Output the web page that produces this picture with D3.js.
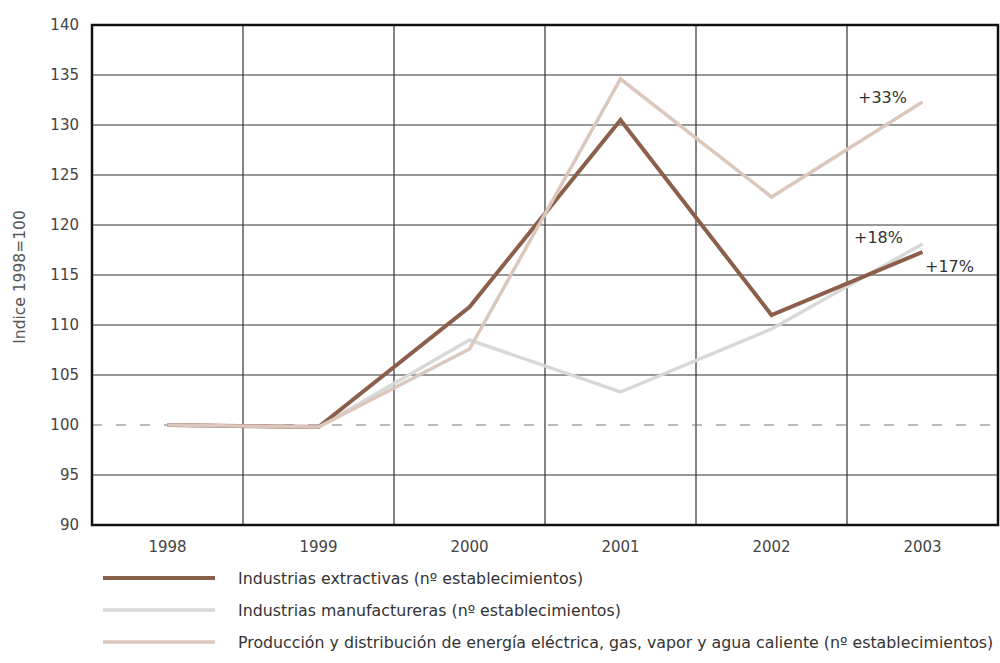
<!DOCTYPE html>
<html><head><meta charset="utf-8">
<script src="https://cdn.jsdelivr.net/npm/d3@7"></script>
<style>body{margin:0;background:#fff;} svg{display:block;font-family:"DejaVu Sans",sans-serif;}</style>
</head><body>
<svg id="c" width="1000" height="663"></svg>
<script>
const years = ["1998","1999","2000","2001","2002","2003"];
const extractivas = [100, 99.8, 111.8, 130.5, 111.0, 117.3];
const manufactureras = [100, 99.8, 108.5, 103.3, 109.6, 118.1];
const energia = [100, 99.8, 107.6, 134.6, 122.8, 132.3];
const yTicks = [90,95,100,105,110,115,120,125,130,135,140];
const seriesNames = ["Industrias extractivas (nº establecimientos)",
  "Industrias manufactureras (nº establecimientos)",
  "Producción y distribución de energía eléctrica, gas, vapor y agua caliente (nº establecimientos)"];
const seriesColors = ["#8c5f4b", "#d8d8d8", "#dcc7bd"];
const seriesWidths = [4, 3.5, 3.5];
const endLabels = ["+17%", "+18%", "+33%"];

const FONT = "DejaVu Sans";
const svg = d3.select("#c");
const L = 92, R = 998, T = 25, B = 525;
const x = d3.scaleBand().domain(years).range([L, R]);
const y = d3.scaleLinear().domain([90, 140]).range([B, T]);

// horizontal grid
svg.append("g").selectAll("line").data(yTicks.filter(d => d !== 100 && d !== 90 && d !== 140)).join("line")
  .attr("x1", L).attr("x2", R).attr("y1", d => y(d)).attr("y2", d => y(d))
  .attr("stroke", "#333").attr("stroke-width", 1.2);
// vertical grid
svg.append("g").selectAll("line").data(years.slice(1)).join("line")
  .attr("x1", d => x(d)).attr("x2", d => x(d)).attr("y1", T).attr("y2", B)
  .attr("stroke", "#333").attr("stroke-width", 1.2);
// dashed 100
svg.append("line").attr("x1", L).attr("x2", R).attr("y1", y(100)).attr("y2", y(100))
  .attr("stroke", "#777").attr("stroke-width", 1.2).attr("stroke-dasharray", "10,14");
// frame
svg.append("rect").attr("x", L).attr("y", T).attr("width", R - L).attr("height", B - T)
  .attr("fill", "none").attr("stroke", "#111").attr("stroke-width", 2.5);

// y axis
const ya = svg.append("g").attr("transform", `translate(${L},0)`)
  .call(d3.axisLeft(y).tickValues(yTicks).tickSize(0).tickPadding(13));
ya.select(".domain").remove();
ya.selectAll("text").attr("font-size", 15).attr("fill", "#444").attr("font-family", FONT);

// x axis
const xa = svg.append("g").attr("transform", `translate(0,${B})`)
  .call(d3.axisBottom(x).tickSize(0).tickPadding(16));
xa.select(".domain").remove();
xa.selectAll("text").attr("font-size", 15).attr("fill", "#444").attr("font-family", FONT);

svg.append("text").attr("transform", `translate(25,277) rotate(-90)`)
  .attr("text-anchor", "middle").attr("font-size", 15.5).attr("fill", "#555")
  .attr("font-family", FONT).text("Indice 1998=100");

// lines
const data = [extractivas, manufactureras, energia];
const line = d3.line().x((d, i) => x(years[i]) + x.bandwidth() / 2).y(d => y(d));
[1, 0, 2].forEach(k => {
  svg.append("path").attr("d", line(data[k])).attr("fill", "none")
    .attr("stroke", seriesColors[k]).attr("stroke-width", seriesWidths[k]).attr("stroke-linejoin", "miter");
});

// end labels
const last = years.length - 1;
const cx = x(years[last]) + x.bandwidth() / 2;
const lblPos = [[cx + 27, y(extractivas[last]) + 20], [cx - 44, y(manufactureras[last]) - 1], [cx - 40, y(energia[last]) + 1]];
endLabels.forEach((t, k) => {
  svg.append("text").attr("x", lblPos[k][0]).attr("y", lblPos[k][1]).attr("text-anchor", "middle")
    .attr("font-size", 16).attr("fill", "#333").attr("font-family", FONT).text(t);
});

// legend
seriesNames.forEach((n, k) => {
  const ly = 578 + k * 32;
  svg.append("line").attr("x1", 103).attr("x2", 215).attr("y1", ly).attr("y2", ly)
    .attr("stroke", seriesColors[k]).attr("stroke-width", seriesWidths[k]);
  svg.append("text").attr("x", 238).attr("y", ly + 6).attr("font-size", 15.8).attr("fill", "#333")
    .attr("font-family", FONT).text(n);
});
</script>
</body></html>
